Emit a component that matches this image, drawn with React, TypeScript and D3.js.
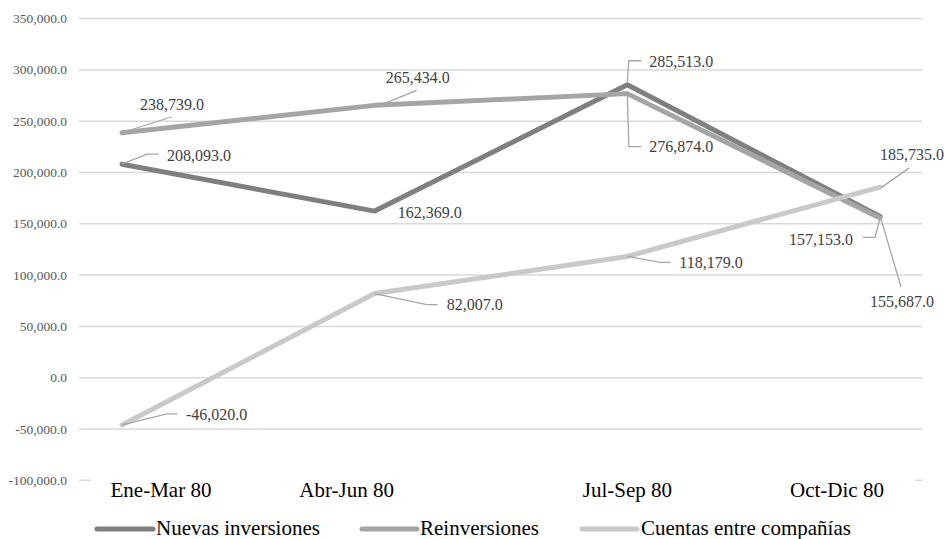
import React from "react";
import * as d3 from "d3";

const categories = ["Ene-Mar 80", "Abr-Jun 80", "Jul-Sep 80", "Oct-Dic 80"];
const seriesNames = ["Nuevas inversiones", "Reinversiones", "Cuentas entre compañías"];
const nuevas = [208093, 162369, 285513, 157153];
const reinversiones = [238739, 265434, 276874, 155687];
const cuentas = [-46020, 82007, 118179, 185735];
const yTicks = [-100000, -50000, 0, 50000, 100000, 150000, 200000, 250000, 300000, 350000];

const colors = ["#7f7f7f", "#a5a5a5", "#c9c9c9"];

// layout: label placement relative to each point
type Lab = { dx: number; dy: number; anchor: string; leader: [number, number][] };
const labelLayout: Lab[][] = [
  [
    { dx: 45, dy: -9, anchor: "start", leader: [[0, 0], [25, -10], [37, -10]] },
    { dx: 23, dy: 1, anchor: "start", leader: [] },
    { dx: 22, dy: -23, anchor: "start", leader: [[0, -3], [1.5, -24], [14, -24]] },
    { dx: -27, dy: 23, anchor: "end", leader: [[0, 2], [-5, 21], [-17, 21]] },
  ],
  [
    { dx: 18, dy: -28, anchor: "start", leader: [[3, -1], [50, -16]] },
    { dx: 11, dy: -28, anchor: "start", leader: [[5, 0], [42, -15]] },
    { dx: 22, dy: 53, anchor: "start", leader: [[0, 2], [1.5, 53], [14, 53]] },
    { dx: -10, dy: 84, anchor: "start", leader: [[1, 1], [21, 69]] },
  ],
  [
    { dx: 64, dy: -10, anchor: "start", leader: [[0, 0], [45, -11], [55, -11]] },
    { dx: 72, dy: 11, anchor: "start", leader: [[0, 0], [52, 11], [63, 11]] },
    { dx: 52, dy: 6, anchor: "start", leader: [[0, 0], [33, 6], [43, 6]] },
    { dx: 0, dy: -33, anchor: "start", leader: [[2, 0], [29, -19]] },
  ],
];
const catLabelDx = [39, -28, 0, -43];
const legendLayout = [
  { x1: 97, x2: 153, tx: 156 },
  { x1: 362, x2: 417, tx: 420 },
  { x1: 582, x2: 637, tx: 641 },
];

const W = 944;
const H = 539;
const fontFamily = "Liberation Serif, DejaVu Serif";

export default function App() {
  const x = d3.scalePoint<string>().domain(categories).range([122, 880]);
  const y = d3.scaleLinear().domain([-100000, 350000]).range([480.3, 18.6]);
  const fmt0 = d3.format(",.1f");
  const fmt = (v: number) => fmt0(v).replace("\u2212", "-");
  const data = [nuevas, reinversiones, cuentas];
  const line = d3
    .line<number>()
    .x((_, i) => x(categories[i]) as number)
    .y((d) => y(d));
  const gridX1 = 79;
  const gridX2 = 922;
  const tf = { fontFamily };

  return (
    <svg
      width={W}
      height={H}
      style={{ position: "absolute", left: 0, top: 0, background: "#fff", fontFamily }}
    >
      {yTicks.map((t, i) => (
        <g key={t}>
          {i === 0 ? (
            <>
              <line x1={gridX1} x2={91} y1={y(t)} y2={y(t)} stroke="#d9d9d9" strokeWidth={1.5} />
              <line x1={915} x2={gridX2} y1={y(t)} y2={y(t)} stroke="#d9d9d9" strokeWidth={1.5} />
            </>
          ) : (
            <line x1={gridX1} x2={gridX2} y1={y(t)} y2={y(t)} stroke="#d9d9d9" strokeWidth={1.5} />
          )}
          <text x={67} y={y(t) + 4.5} textAnchor="end" fontSize={13.5} fill="#595959" style={tf}>
            {fmt(t)}
          </text>
        </g>
      ))}
      {categories.map((c, i) => (
        <text key={c} x={(x(c) as number) + catLabelDx[i]} y={497} textAnchor="middle" fontSize={21} fill="#000" style={tf}>
          {c}
        </text>
      ))}
      {data.map((vals, s) => (
        <path
          key={s}
          d={line(vals) as string}
          fill="none"
          stroke={colors[s]}
          strokeWidth={5}
          strokeLinejoin="round"
          strokeLinecap="round"
        />
      ))}
      {data.map((vals, s) =>
        vals.map((v, i) => {
          const px = x(categories[i]) as number;
          const py = y(v);
          const lab = labelLayout[s][i];
          return (
            <g key={`${s}-${i}`}>
              {lab.leader.length > 0 && (
                <polyline
                  points={lab.leader.map(([a, b]) => `${px + a},${py + b}`).join(" ")}
                  fill="none"
                  stroke="#a6a6a6"
                  strokeWidth={1.3}
                />
              )}
              <text
                x={px + lab.dx}
                y={py + lab.dy + 5.5}
                textAnchor={lab.anchor as any}
                fontSize={16}
                fill="#404040"
                style={tf}
              >
                {fmt(v)}
              </text>
            </g>
          );
        })
      )}
      {seriesNames.map((n, s) => {
        const L = legendLayout[s];
        return (
          <g key={n}>
            <line x1={L.x1} x2={L.x2} y1={529} y2={529} stroke={colors[s]} strokeWidth={5} strokeLinecap="round" />
            <text x={L.tx} y={535} fontSize={21} fill="#000" style={tf}>
              {n}
            </text>
          </g>
        );
      })}
    </svg>
  );
}
